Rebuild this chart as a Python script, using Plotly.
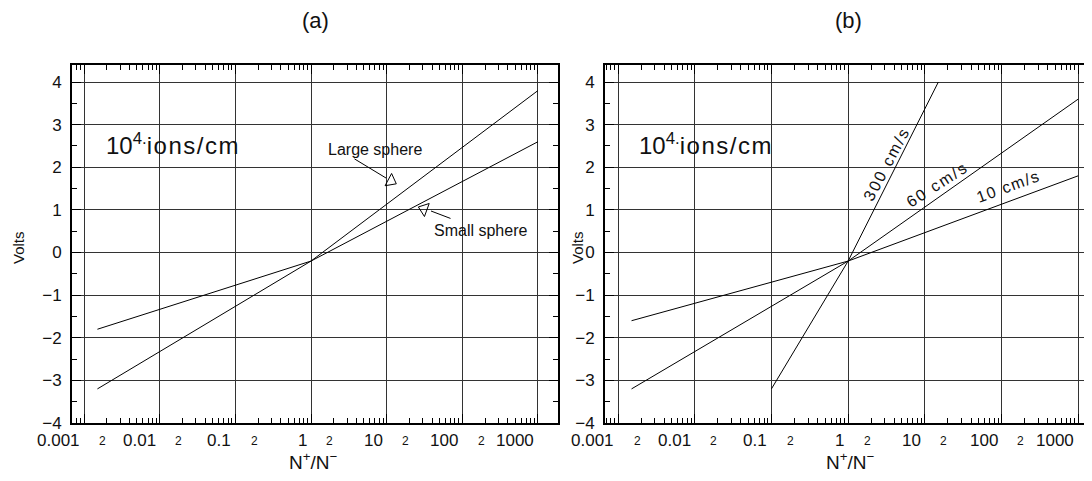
import math
import plotly.graph_objects as go

# ---------------- data ----------------
x_sphere = [0.0015, 1, 1000]
large_sphere = [-3.2, -0.2, 3.8]
small_sphere = [-1.8, -0.2, 2.6]

x_10 = [0.0015, 1, 1000]
v_10 = [-1.6, -0.2, 1.8]
x_60 = [0.0015, 1, 1000]
v_60 = [-3.2, -0.2, 3.6]
x_300 = [0.1, 1, 15]
v_300 = [-3.2, -0.2, 4.0]

decade_ticks = [0.001, 0.01, 0.1, 1, 10, 100, 1000]
decade_labels = ["0.001", "0.01", "0.1", "1", "10", "100", "1000"]
two_ticks = [0.002, 0.02, 0.2, 2, 20, 200]
two_labels = ["2", "2", "2", "2", "2", "2"]
minor_x = [k * 10.0 ** e for e in range(-4, 4) for k in range(2, 10)]
y_ticks = [-4, -3, -2, -1, 0, 1, 2, 3, 4]
y_labels = ["\u22124", "\u22123", "\u22122", "\u22121", "0", "1", "2", "3", "4"]
y_minor = [-3.5, -2.5, -1.5, -0.5, 0.5, 1.5, 2.5, 3.5]

# ---------------- geometry (reference pixel coords) ----------------
W, H = 1092, 481
OFF = 8  # page body margin offset
PLOT_L, PLOT_R, PLOT_T, PLOT_B = 72, 1098, 65, 423
ML, MT = PLOT_L - OFF, PLOT_T - OFF
MR = W - (PLOT_R - OFF)
MB = H - (PLOT_B - OFF)
PW, PH = PLOT_R - PLOT_L, PLOT_B - PLOT_T
A_PX = (72, 558)
B_PX = (605, 1098)
dom_a = [0, (A_PX[1] - PLOT_L) / PW]
dom_b = [(B_PX[0] - PLOT_L) / PW, 1]
xr_a = [-3.16, 3.265]
xr_b = [-3.17, 3.258]
yr = [-4, 4.4]
FONT = "Liberation Sans, Arial, sans-serif"
TXT = "#111111"


def xlog(px, panel):
    p0, p1 = (A_PX if panel == "a" else B_PX)
    lo, hi = (xr_a if panel == "a" else xr_b)
    return lo + (px - p0) / (p1 - p0) * (hi - lo)


def yval(py):
    return yr[0] + (PLOT_B - py) / PH * (yr[1] - yr[0])


def xdom(px, panel):
    p0, p1 = (A_PX if panel == "a" else B_PX)
    return (px - p0) / (p1 - p0)


def ydom(py):
    return (PLOT_B - py) / PH


def spaced(s, px):
    return '<span style="letter-spacing:%spx">%s</span>' % (px, s)


fig = go.Figure()
line = dict(color="black", width=1)
fig.add_trace(go.Scatter(x=x_sphere, y=large_sphere, mode="lines", line=line, xaxis="x", yaxis="y"))
fig.add_trace(go.Scatter(x=x_sphere, y=small_sphere, mode="lines", line=line, xaxis="x", yaxis="y"))
fig.add_trace(go.Scatter(x=x_10, y=v_10, mode="lines", line=line, xaxis="x2", yaxis="y2"))
fig.add_trace(go.Scatter(x=x_60, y=v_60, mode="lines", line=line, xaxis="x2", yaxis="y2"))
fig.add_trace(go.Scatter(x=x_300, y=v_300, mode="lines", line=line, xaxis="x2", yaxis="y2"))

# open arrow heads (decoration)
tri_px = [(391, 181, 118), (424, 209, 290)]
fig.add_trace(go.Scatter(
    x=[10 ** xlog(p[0], "a") for p in tri_px],
    y=[yval(p[1]) for p in tri_px],
    mode="markers",
    marker=dict(symbol="triangle-up-open", size=12, color="black",
                angle=[p[2] for p in tri_px], line=dict(width=1, color="black")),
    xaxis="x", yaxis="y"))


def xaxis_style(rng, dom, anchor):
    return dict(type="log", range=rng, domain=dom, anchor=anchor,
                showline=True, linecolor="black", linewidth=2, mirror="ticks",
                ticks="inside", ticklen=9, tickwidth=1, tickcolor="black",
                tickmode="array", tickvals=decade_ticks, showticklabels=False,
                showgrid=True, gridcolor="#333333", gridwidth=1, zeroline=False,
                minor=dict(ticks="inside", ticklen=5, tickwidth=1, tickcolor="black",
                           tickmode="array", tickvals=minor_x, showgrid=False))


def yaxis_style(dom_anchor, mirror):
    return dict(range=yr, domain=[0, 1], anchor=dom_anchor,
                showline=True, linecolor="black", linewidth=2, mirror=mirror,
                ticks="inside", ticklen=9, tickwidth=1, tickcolor="black",
                tickmode="array", tickvals=y_ticks, ticktext=y_labels,
                ticklabelstandoff=5,
                tickfont=dict(family=FONT, size=17, color=TXT),
                showgrid=True, gridcolor="#333333", gridwidth=1, zeroline=False,
                minor=dict(ticks="inside", ticklen=5, tickwidth=1, tickcolor="black",
                           tickmode="array", tickvals=y_minor, showgrid=False))


ann = []
for panel, xref in (("a", "x"), ("b", "x2")):
    dref = "x domain" if panel == "a" else "x2 domain"
    yref = "y domain" if panel == "a" else "y2 domain"
    for v, lab in zip(decade_ticks, decade_labels):
        ann.append(dict(x=math.log10(v), xref=xref, y=0, yref=yref,
                        text=lab, showarrow=False, xanchor="right", yanchor="top",
                        xshift=-2, yshift=-6, font=dict(family=FONT, size=17, color=TXT)))
    for v, lab in zip(two_ticks, two_labels):
        ann.append(dict(x=math.log10(v), xref=xref, y=0, yref=yref,
                        text=lab, showarrow=False, xanchor="center", yanchor="top",
                        xshift=-4, yshift=-9, font=dict(family=FONT, size=12, color=TXT)))
    # panel titles
    ann.append(dict(x=xdom(315 if panel == "a" else 848, panel), xref=dref, y=ydom(20), yref=yref,
                    text="(" + panel + ")", showarrow=False, xanchor="center", yanchor="middle",
                    font=dict(family=FONT, size=22, color=TXT)))
    # x title
    ann.append(dict(x=0, xref=xref, y=ydom(461), yref=yref,
                    text="N<sup>+</sup>/N<sup>\u2212</sup>", showarrow=False,
                    xanchor="center", yanchor="middle", xshift=2,
                    font=dict(family=FONT, size=19, color=TXT)))
    # y title
    ytx = 18 if panel == "a" else 577
    ann.append(dict(x=(ytx - PLOT_L) / PW, xref="paper", y=ydom(248), yref="paper",
                    text="Volts", textangle=-90, showarrow=False,
                    xanchor="center", yanchor="middle",
                    font=dict(family=FONT, size=15, color=TXT)))
    # ions label
    ann.append(dict(x=xdom((A_PX if panel == "a" else B_PX)[0] + 32, panel), xref=dref,
                    y=ydom(144), yref=yref,
                    text="10<sup>4.</sup>" + spaced("ions/cm", 1.5),
                    showarrow=False, xanchor="left", yanchor="middle",
                    font=dict(family=FONT, size=24, color=TXT)))

# panel (a) labels and arrows
ann.append(dict(x=xdom(326, "a"), xref="x domain", y=ydom(149), yref="y domain",
                text="Large sphere", showarrow=False, xanchor="left", yanchor="middle",
                font=dict(family=FONT, size=16, color=TXT)))
ann.append(dict(x=xdom(432, "a"), xref="x domain", y=ydom(230), yref="y domain",
                text="Small sphere", showarrow=False, xanchor="left", yanchor="middle",
                font=dict(family=FONT, size=16, color=TXT)))
for (hx, hy, tx, ty) in [(386, 178, 353, 158), (431, 211, 452, 219)]:
    ann.append(dict(x=xlog(hx, "a"), xref="x", y=yval(hy), yref="y", text="",
                    showarrow=True, arrowhead=0, arrowwidth=1, arrowcolor="black",
                    ax=tx - hx, ay=ty - hy, standoff=0))

# panel (b) speed labels
for (px, py, ang, lab, sp) in [(886, 164, -62, "300 cm/s", 2), (937, 184, -33, "60 cm/s", 2),
                               (1008, 186, -20, "10 cm/s", 1.5)]:
    ann.append(dict(x=xlog(px, "b"), xref="x2", y=yval(py), yref="y2", text=spaced(lab, sp),
                    textangle=ang, showarrow=False, xanchor="center", yanchor="middle",
                    font=dict(family=FONT, size=16, color=TXT)))

fig.update_layout(
    width=W, height=H,
    margin=dict(l=ML, r=MR, t=MT, b=MB),
    paper_bgcolor="white", plot_bgcolor="white",
    showlegend=False,
    xaxis=xaxis_style(xr_a, dom_a, "y"),
    yaxis=yaxis_style("x", "ticks"),
    xaxis2=xaxis_style(xr_b, dom_b, "y2"),
    yaxis2=yaxis_style("x2", False),
    annotations=ann,
)
fig.write_html("out.html")
